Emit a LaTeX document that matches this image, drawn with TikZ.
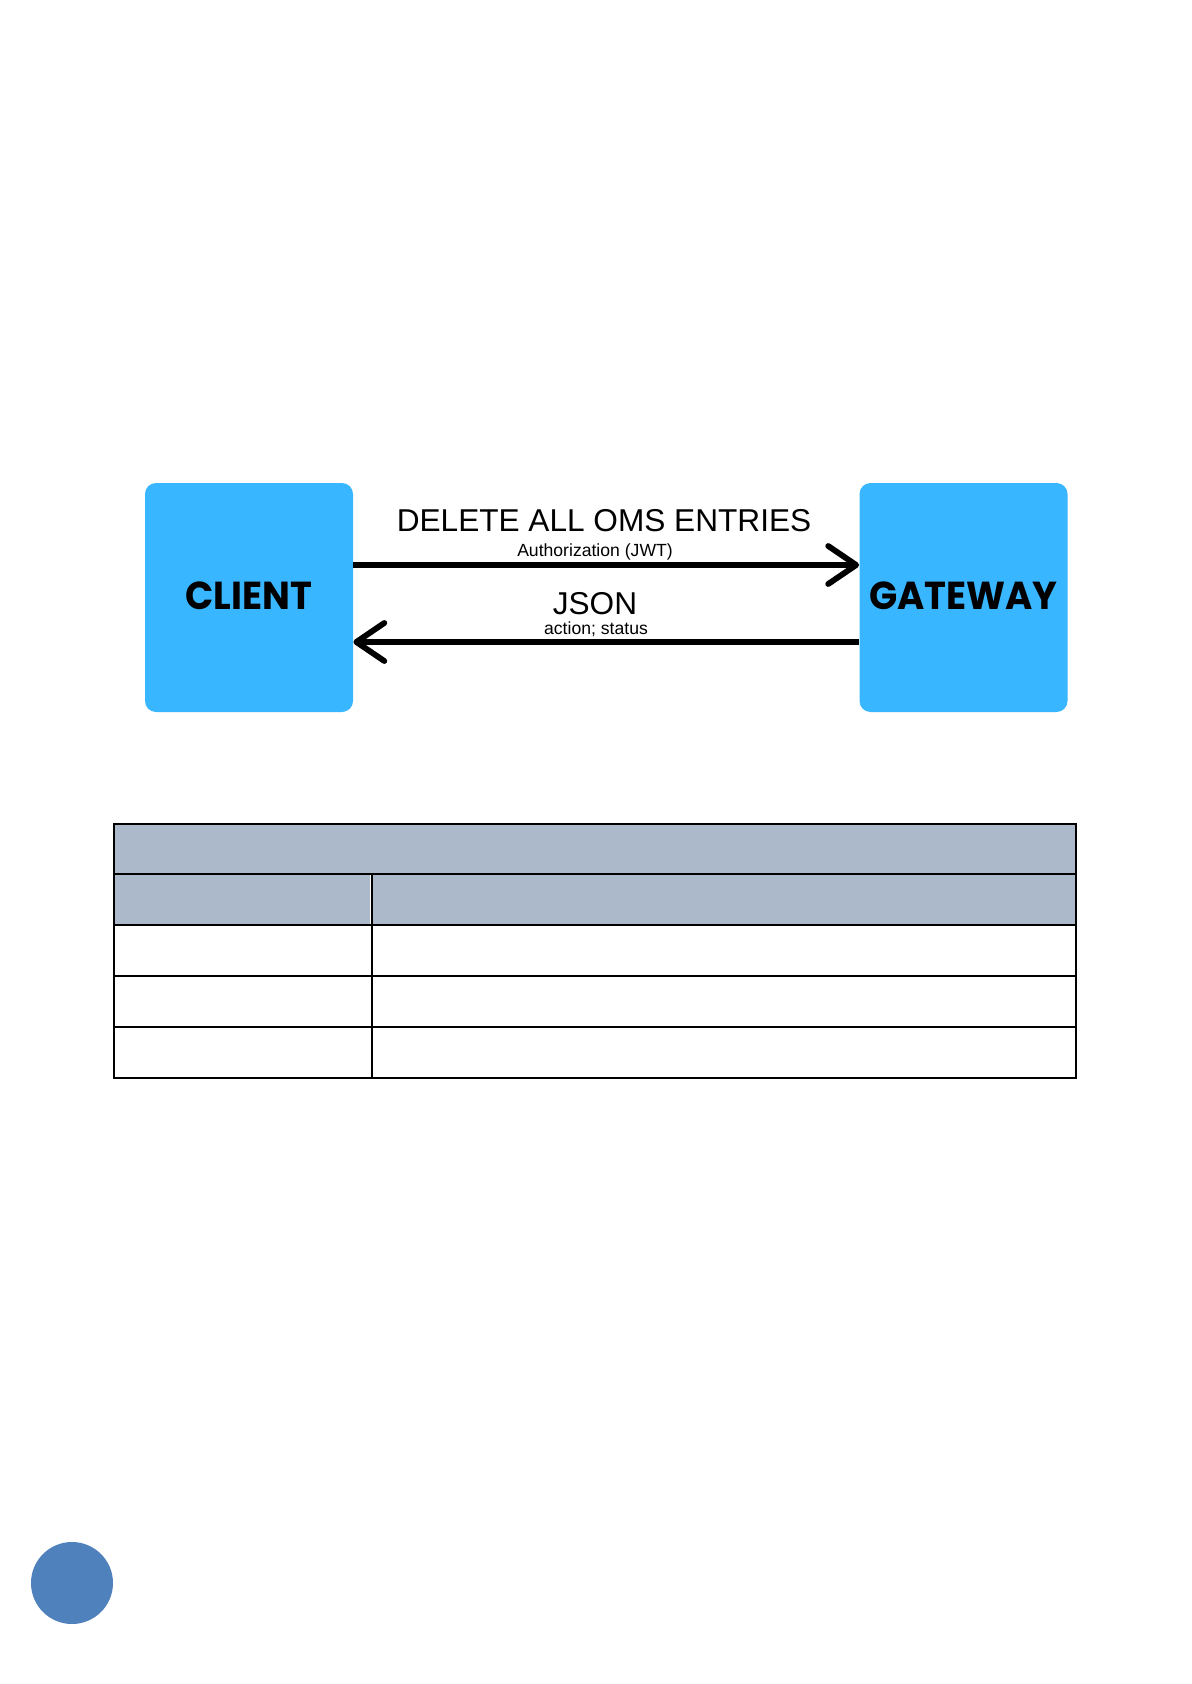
\documentclass[tikz,border=0pt]{standalone}
\usepackage{fontspec}
\setmainfont{Liberation Sans}
\newfontfamily\boxfont{Poppins}[UprightFont=* Bold]
\usetikzlibrary{arrows.meta,calc}
\definecolor{boxblue}{HTML}{38B6FF}
\definecolor{hdr}{HTML}{ACB9CA}
\definecolor{dot}{HTML}{4F81BD}
\begin{document}
\begin{tikzpicture}[x=0.5pt,y=-0.5pt,
  actor/.style={fill=boxblue, rounded corners=5.5pt, minimum width=104pt, minimum height=114.5pt, inner sep=0pt, font=\boxfont\fontsize{19.5}{20}\selectfont},
  msg/.style={line width=2.9pt, -{Straight Barb[length=14pt,width=19pt,round]}},
  big/.style={font=\fontsize{15.8}{16}\selectfont, inner sep=0pt},
  small/.style={font=\fontsize{8.8}{9}\selectfont, inner sep=0pt},
  grid/.style={line width=0.55pt}]
\useasboundingbox (0,0) rectangle (1191,1684);
\fill[white] (0,0) rectangle (1191,1684);
\node[actor] (client) at (249,597.5) {\raisebox{2pt}{\scalebox{0.95}[1]{CLIENT}}};
\node[actor] (gateway) at (963.5,597.5) {\raisebox{2pt}{\scalebox{0.95}[1]{GATEWAY}}};
\coordinate (a1s) at (client.east |- 0,565);
\coordinate (a1e) at (gateway.west |- 0,565);
\coordinate (a2s) at (gateway.west |- 0,642);
\coordinate (a2e) at (client.east |- 0,642);
\draw[msg] (a1s) -- (a1e);
\draw[msg] (a2s) -- (a2e);
\node[big] (t1) at (604,521) {DELETE ALL OMS ENTRIES};
\node[small] (t2) at (595,552) {Authorization (JWT)};
\node[big] (t3) at (595,604) {JSON};
\node[small] (t4) at (596,629.5) {action; status};
% table
\fill[hdr] (114,824) rectangle (1076,925);
\draw[grid] (114,824) rectangle (1076,1078);
\draw[grid] (114,874) -- (1076,874);
\draw[grid] (114,925) -- (1076,925);
\draw[grid] (114,976) -- (1076,976);
\draw[grid] (114,1027) -- (1076,1027);
\draw[grid] (372,874) -- (372,1078);
\draw[white, line width=0.5pt] (370.5,875) -- (370.5,924);
% page dot
\fill[dot] (72,1583) circle[radius=20.5pt];
\end{tikzpicture}
\end{document}
